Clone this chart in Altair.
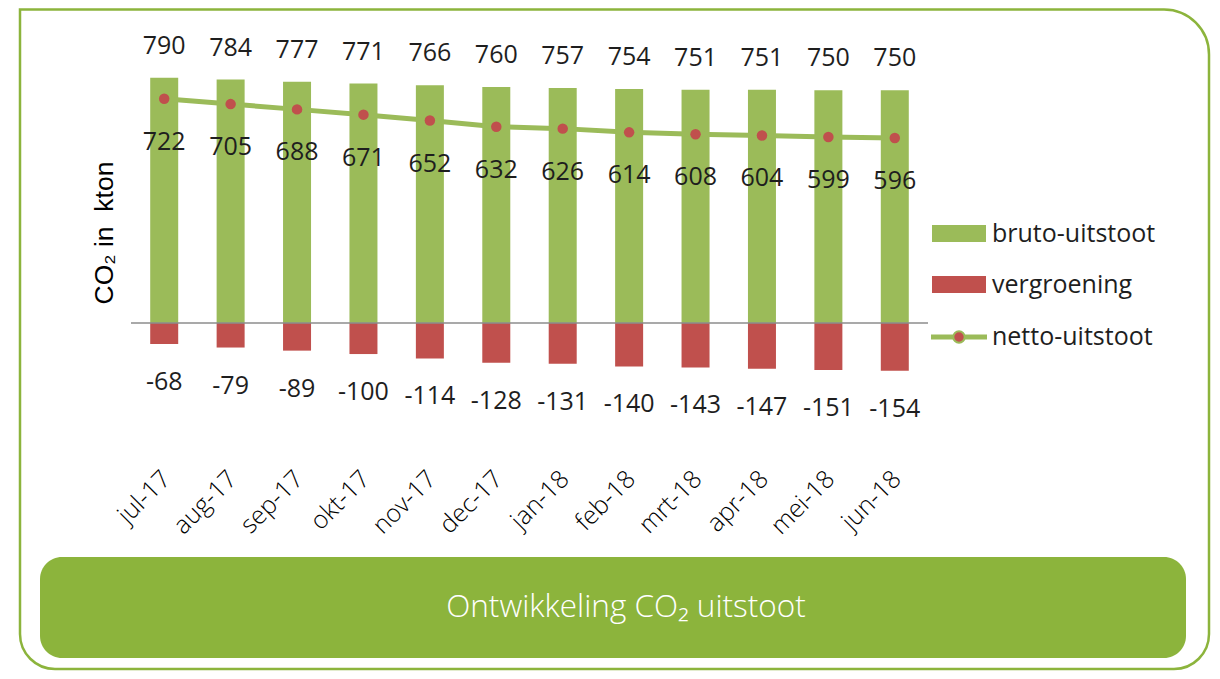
import altair as alt
import pandas as pd

months = ["jul-17", "aug-17", "sep-17", "okt-17", "nov-17", "dec-17",
          "jan-18", "feb-18", "mrt-18", "apr-18", "mei-18", "jun-18"]
bruto = [790, 784, 777, 771, 766, 760, 757, 754, 751, 751, 750, 750]
vergroening = [-68, -79, -89, -100, -114, -128, -131, -140, -143, -147, -151, -154]
netto = [722, 705, 688, 671, 652, 632, 626, 614, 608, 604, 599, 596]

legend_names = ["bruto-uitstoot", "vergroening", "netto-uitstoot"]

GREEN = "#9BBB59"
RED = "#C0504D"
FRAME = "#8CB43C"
TXT = "#1E1E1E"
FONT = "Open Sans"

df = pd.DataFrame({"month": months, "bruto": bruto, "verg": vergroening,
                   "netto": netto, "zero": [0] * len(months)})
one = pd.DataFrame({"a": [0]})

# plot area placement inside the 1204x663 canvas
PL, PT = 123.0, 35.55
PW, PH = 797.0, 341.55
PR = 1204 - PL - PW
PB = 663 - PT - PH


def vx(v):
    return alt.value(v - PL)


def vy(v):
    return alt.value(v - PT)


xs = alt.Scale(type="band", domain=months, paddingInner=0, paddingOuter=0)
ys = alt.Scale(domain=[-200, 900], nice=False, zero=False)
X = alt.X("month:N", scale=xs, axis=None)

base = alt.Chart(df)

frame = alt.Chart(one).mark_rect(
    fill="white", fillOpacity=0, stroke=FRAME, strokeWidth=2.5,
    cornerRadiusTopRight=45, cornerRadiusBottomLeft=35, cornerRadiusBottomRight=35,
).encode(x=vx(12), x2=vx(1201), y=vy(1.5), y2=vy(661))

banner = alt.Chart(one).mark_rect(fill=FRAME, cornerRadius=22).encode(
    x=vx(32), x2=vx(1178), y=vy(549), y2=vy(650))

banner_text = alt.Chart(one).mark_text(
    text="Ontwikkeling CO\u2082 uitstoot", font=FONT, fontWeight=300, fontSize=31.5,
    color="white", align="center", baseline="middle",
).encode(x=vx(618), y=vy(600))

bars_pos = base.mark_bar(color=GREEN, size=28).encode(
    x=X, y=alt.Y("bruto:Q", scale=ys, axis=None), y2="zero:Q")
bars_neg = base.mark_bar(color=RED, size=28).encode(
    x=X, y=alt.Y("verg:Q", scale=ys, axis=None), y2="zero:Q")

zero_rule = alt.Chart(one).mark_rule(color="#8C8C8C", strokeWidth=1.5).encode(
    y=alt.Y("a:Q", scale=ys, axis=None), x=vx(123), x2=vx(920))

line = base.mark_line(color=GREEN, strokeWidth=5).encode(
    x=X, y=alt.Y("netto:Q", scale=ys, axis=None))
pts = base.mark_circle(color=RED, size=110, opacity=1).encode(
    x=X, y=alt.Y("netto:Q", scale=ys, axis=None))

lab_b = base.mark_text(font=FONT, fontSize=25, color=TXT, dy=-32, baseline="middle").encode(
    x=X, y=alt.Y("bruto:Q", scale=ys, axis=None), text=alt.Text("bruto:N"))
lab_n = base.mark_text(font=FONT, fontSize=25, color=TXT, dy=43, baseline="middle").encode(
    x=X, y=alt.Y("netto:Q", scale=ys, axis=None), text=alt.Text("netto:N"))
lab_v = base.mark_text(font=FONT, fontSize=25, color=TXT, dy=38, baseline="middle").encode(
    x=X, y=alt.Y("verg:Q", scale=ys, axis=None), text=alt.Text("verg:N"))

xlab = base.mark_text(font=FONT, fontWeight=300, fontSize=25, color="#000000", angle=315,
                      align="right", baseline="middle", dx=3).encode(
    x=X, y=vy(469), text="month:N")

ytitle = alt.Chart(one).mark_text(
    text="CO\u2082 in\u00a0\u00a0kton", font="Liberation Sans", fontSize=26.5, color="black",
    angle=270, align="center", baseline="middle").encode(x=vx(97), y=vy(225))

leg_b = alt.Chart(one).mark_rect(fill=GREEN).encode(
    x=vx(924), x2=vx(978), y=vy(217), y2=vy(234))
leg_v = alt.Chart(one).mark_rect(fill=RED).encode(
    x=vx(924), x2=vx(978), y=vy(268), y2=vy(285))
leg_l = alt.Chart(one).mark_rule(color=GREEN, strokeWidth=5).encode(
    x=vx(923), x2=vx(979), y=vy(329))
leg_p = alt.Chart(one).mark_circle(fill=RED, stroke=GREEN, strokeWidth=2,
                                   size=130, opacity=1).encode(x=vx(951), y=vy(329))
leg_texts = []
for name, yy in zip(legend_names, [226, 277, 329]):
    leg_texts.append(alt.Chart(one).mark_text(
        text=name, font=FONT, fontSize=25, color=TXT, align="left", baseline="middle"
    ).encode(x=vx(984), y=vy(yy)))

chart = alt.layer(
    frame, banner, banner_text, bars_pos, bars_neg, zero_rule, line, pts,
    lab_b, lab_n, lab_v, xlab, ytitle, leg_b, leg_v, leg_l, leg_p, *leg_texts
).properties(
    width=PW, height=PH,
    padding={"left": PL, "top": PT, "right": PR, "bottom": PB},
    autosize=alt.AutoSizeParams(type="none"),
).configure_view(stroke=None)

chart.save("out.html", embed_options={"renderer": "svg", "actions": False})
